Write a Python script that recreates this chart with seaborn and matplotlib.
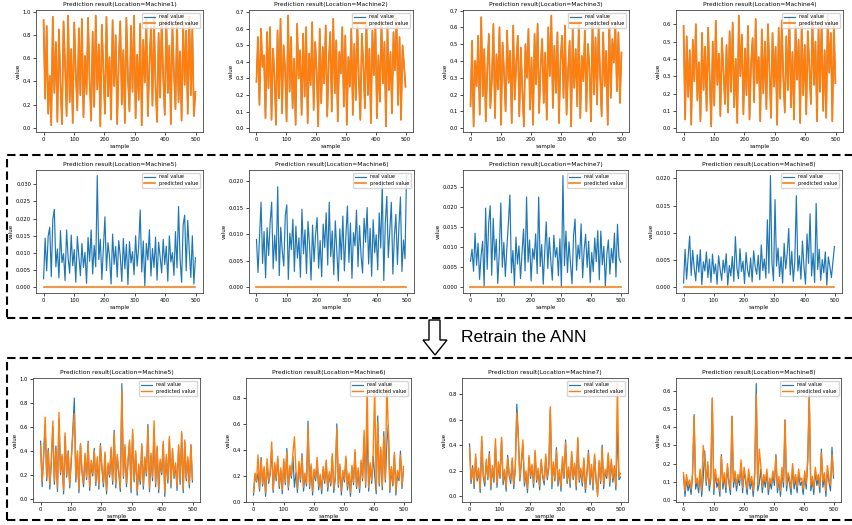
import numpy as np
import pandas as pd
import matplotlib
matplotlib.use("Agg")
import matplotlib.pyplot as plt
from matplotlib.patches import Rectangle, Polygon
import seaborn as sns

# ---- values (every 5th sample, approx.) ----
m1_real = [0.93, 0.25, 0.88, 0.12, 0.45, 0.02, 0.96, 0.30, 0.74, 0.05,
           0.85, 0.38, 0.03, 0.92, 0.55, 0.10, 0.97, 0.22, 0.68, 0.04,
           0.91, 0.47, 0.15, 0.86, 0.28, 0.94, 0.09, 0.62, 0.29, 0.95,
           0.41, 0.06, 0.83, 0.18, 0.97, 0.33, 0.72, 0.01, 0.89, 0.50,
           0.12, 0.96, 0.27, 0.61, 0.07, 0.93, 0.36, 0.80, 0.03, 0.58,
           0.92, 0.20, 0.67, 0.04, 0.95, 0.43, 0.14, 0.88, 0.31, 0.97,
           0.08, 0.63, 0.24, 0.90, 0.02, 0.76, 0.39, 0.94, 0.10, 0.54,
           0.87, 0.19, 0.96, 0.35, 0.05, 0.82, 0.26, 0.93, 0.44, 0.11,
           0.97, 0.30, 0.71, 0.03, 0.89, 0.48, 0.16, 0.95, 0.22, 0.66,
           0.06, 0.91, 0.37, 0.84, 0.12, 0.96, 0.28, 0.85, 0.10, 0.31]
m2_real = [0.28, 0.55, 0.14, 0.60, 0.37, 0.44, 0.06, 0.58, 0.24, 0.61,
           0.05, 0.48, 0.31, 0.02, 0.59, 0.18, 0.66, 0.09, 0.50, 0.36,
           0.04, 0.68, 0.22, 0.55, 0.12, 0.42, 0.02, 0.63, 0.30, 0.47,
           0.08, 0.57, 0.19, 0.61, 0.03, 0.45, 0.26, 0.64, 0.11, 0.52,
           0.34, 0.01, 0.60, 0.15, 0.49, 0.27, 0.62, 0.07, 0.40, 0.58,
           0.10, 0.66, 0.21, 0.53, 0.04, 0.46, 0.33, 0.61, 0.13, 0.56,
           0.02, 0.43, 0.25, 0.60, 0.08, 0.51, 0.17, 0.63, 0.29, 0.05,
           0.57, 0.38, 0.12, 0.65, 0.20, 0.48, 0.03, 0.59, 0.32, 0.62,
           0.06, 0.44, 0.16, 0.64, 0.27, 0.52, 0.01, 0.61, 0.23, 0.46,
           0.09, 0.58, 0.35, 0.66, 0.14, 0.55, 0.05, 0.50, 0.38, 0.25]
m3_real = [0.13, 0.52, 0.01, 0.40, 0.25, 0.55, 0.08, 0.66, 0.19, 0.47,
           0.04, 0.35, 0.56, 0.12, 0.29, 0.62, 0.06, 0.44, 0.23, 0.60,
           0.02, 0.51, 0.33, 0.10, 0.58, 0.27, 0.46, 0.03, 0.61, 0.17,
           0.39, 0.55, 0.07, 0.48, 0.22, 0.01, 0.50, 0.30, 0.59, 0.11,
           0.42, 0.02, 0.56, 0.26, 0.62, 0.09, 0.37, 0.53, 0.15, 0.45,
           0.05, 0.60, 0.31, 0.67, 0.12, 0.49, 0.21, 0.57, 0.03, 0.40,
           0.55, 0.18, 0.61, 0.08, 0.34, 0.52, 0.01, 0.59, 0.24, 0.47,
           0.13, 0.62, 0.06, 0.43, 0.28, 0.58, 0.10, 0.50, 0.36, 0.04,
           0.63, 0.20, 0.54, 0.14, 0.61, 0.32, 0.07, 0.57, 0.25, 0.46,
           0.02, 0.65, 0.18, 0.53, 0.39, 0.62, 0.22, 0.57, 0.15, 0.45]
m4_real = [0.59, 0.05, 0.53, 0.18, 0.45, 0.02, 0.51, 0.27, 0.60, 0.16,
           0.38, 0.04, 0.55, 0.22, 0.47, 0.10, 0.58, 0.29, 0.01, 0.50,
           0.13, 0.62, 0.25, 0.43, 0.07, 0.52, 0.33, 0.14, 0.48, 0.09,
           0.56, 0.21, 0.61, 0.12, 0.40, 0.03, 0.65, 0.30, 0.54, 0.08,
           0.46, 0.19, 0.59, 0.05, 0.37, 0.52, 0.15, 0.63, 0.26, 0.41,
           0.04, 0.57, 0.20, 0.50, 0.11, 0.60, 0.34, 0.06, 0.55, 0.24,
           0.47, 0.02, 0.58, 0.17, 0.62, 0.30, 0.09, 0.53, 0.22, 0.64,
           0.12, 0.44, 0.05, 0.59, 0.28, 0.51, 0.03, 0.61, 0.19, 0.48,
           0.08, 0.56, 0.35, 0.14, 0.63, 0.25, 0.50, 0.04, 0.58, 0.21,
           0.62, 0.10, 0.45, 0.06, 0.65, 0.32, 0.55, 0.04, 0.60, 0.26]
# first row: prediction lies on top of the real curve
m1_pred, m2_pred, m3_pred, m4_pred = m1_real, m2_real, m3_real, m4_real

m5_real = [0.0025, 0.0143, 0.0048, 0.0150, 0.0175, 0.0031, 0.0197, 0.0227, 0.0060, 0.0112,
           0.0028, 0.0165, 0.0072, 0.0098, 0.0020, 0.0167, 0.0085, 0.0041, 0.0152, 0.0063,
           0.0110, 0.0015, 0.0148, 0.0090, 0.0034, 0.0128, 0.0058, 0.0102, 0.0012, 0.0145,
           0.0076, 0.0167, 0.0039, 0.0122, 0.0060, 0.0325, 0.0081, 0.0140, 0.0023, 0.0115,
           0.0205, 0.0049, 0.0130, 0.0088, 0.0010, 0.0155, 0.0067, 0.0119, 0.0030, 0.0136,
           0.0092, 0.0017, 0.0142, 0.0054, 0.0125, 0.0008, 0.0133, 0.0071, 0.0104, 0.0037,
           0.0150, 0.0062, 0.0118, 0.0225, 0.0045, 0.0135, 0.0005, 0.0128, 0.0080, 0.0168,
           0.0033, 0.0113, 0.0058, 0.0146, 0.0021, 0.0131, 0.0089, 0.0042, 0.0140, 0.0066,
           0.0120, 0.0018, 0.0150, 0.0074, 0.0101, 0.0035, 0.0162, 0.0057, 0.0235, 0.0082,
           0.0015, 0.0182, 0.0210, 0.0048, 0.0195, 0.0107, 0.0029, 0.0150, 0.0010, 0.0086]
m6_real = [0.0090, 0.0028, 0.0095, 0.0160, 0.0045, 0.0105, 0.0018, 0.0112, 0.0060, 0.0122,
           0.0160, 0.0035, 0.0098, 0.0050, 0.0189, 0.0022, 0.0113, 0.0068, 0.0040, 0.0135,
           0.0155, 0.0015, 0.0102, 0.0071, 0.0128, 0.0030, 0.0115, 0.0055, 0.0093, 0.0019,
           0.0147, 0.0063, 0.0108, 0.0026, 0.0124, 0.0080, 0.0014, 0.0117, 0.0048, 0.0100,
           0.0131, 0.0036, 0.0088, 0.0020, 0.0119, 0.0075, 0.0140, 0.0042, 0.0160, 0.0058,
           0.0106, 0.0024, 0.0125, 0.0069, 0.0012, 0.0110, 0.0052, 0.0134, 0.0031, 0.0097,
           0.0153, 0.0047, 0.0121, 0.0017, 0.0103, 0.0078, 0.0145, 0.0039, 0.0116, 0.0060,
           0.0027, 0.0130, 0.0085, 0.0150, 0.0044, 0.0111, 0.0021, 0.0127, 0.0065, 0.0099,
           0.0033, 0.0140, 0.0074, 0.0195, 0.0013, 0.0120, 0.0171, 0.0056, 0.0109, 0.0160,
           0.0025, 0.0096, 0.0137, 0.0043, 0.0114, 0.0170, 0.0030, 0.0089, 0.0054, 0.0210]
m7_real = [0.0065, 0.0095, 0.0040, 0.0135, 0.0055, 0.0110, 0.0020, 0.0080, 0.0115, 0.0003,
           0.0197, 0.0045, 0.0160, 0.0203, 0.0030, 0.0172, 0.0068, 0.0120, 0.0010, 0.0088,
           0.0210, 0.0050, 0.0112, 0.0027, 0.0098, 0.0160, 0.0230, 0.0036, 0.0092, 0.0005,
           0.0125, 0.0058, 0.0103, 0.0022, 0.0085, 0.0145, 0.0041, 0.0225, 0.0063, 0.0118,
           0.0016, 0.0096, 0.0070, 0.0133, 0.0034, 0.0225, 0.0052, 0.0107, 0.0008, 0.0090,
           0.0163, 0.0047, 0.0124, 0.0066, 0.0018, 0.0130, 0.0075, 0.0099, 0.0029, 0.0121,
           0.0002, 0.0278, 0.0054, 0.0140, 0.0037, 0.0113, 0.0060, 0.0009, 0.0128, 0.0170,
           0.0043, 0.0105, 0.0071, 0.0158, 0.0024, 0.0094, 0.0132, 0.0050, 0.0115, 0.0012,
           0.0087, 0.0039, 0.0123, 0.0064, 0.0141, 0.0019, 0.0140, 0.0056, 0.0102, 0.0003,
           0.0082, 0.0118, 0.0033, 0.0097, 0.0061, 0.0135, 0.0026, 0.0157, 0.0074, 0.0063]
m8_real = [0.0008, 0.0070, 0.0015, 0.0055, 0.0094, 0.0022, 0.0068, 0.0035, 0.0012, 0.0060,
           0.0028, 0.0069, 0.0005, 0.0047, 0.0030, 0.0065, 0.0018, 0.0052, 0.0009, 0.0061,
           0.0025, 0.0043, 0.0006, 0.0058, 0.0033, 0.0013, 0.0050, 0.0027, 0.0062, 0.0004,
           0.0040, 0.0021, 0.0057, 0.0011, 0.0093, 0.0036, 0.0016, 0.0071, 0.0029, 0.0048,
           0.0007, 0.0064, 0.0032, 0.0019, 0.0054, 0.0010, 0.0067, 0.0038, 0.0024, 0.0059,
           0.0014, 0.0078, 0.0031, 0.0052, 0.0017, 0.0124, 0.0026, 0.0205, 0.0045, 0.0012,
           0.0161, 0.0039, 0.0072, 0.0020, 0.0056, 0.0008, 0.0081, 0.0034, 0.0062, 0.0108,
           0.0023, 0.0066, 0.0011, 0.0049, 0.0168, 0.0030, 0.0058, 0.0015, 0.0085, 0.0037,
           0.0006, 0.0098, 0.0044, 0.0135, 0.0021, 0.0063, 0.0009, 0.0154, 0.0033, 0.0070,
           0.0013, 0.0051, 0.0027, 0.0065, 0.0004, 0.0056, 0.0038, 0.0018, 0.0047, 0.0075]
# second row: the untrained net predicts a flat zero
flat_pred = [0.0, 0.0]
flat_sample = [0, 499]

b5_real = [0.48, 0.10, 0.37, 0.62, 0.15, 0.42, 0.08, 0.30, 0.60, 0.12,
           0.44, 0.06, 0.66, 0.20, 0.35, 0.04, 0.52, 0.18, 0.40, 0.09,
           0.31, 0.57, 0.84, 0.14, 0.38, 0.05, 0.45, 0.22, 0.10, 0.36,
           0.16, 0.48, 0.07, 0.29, 0.19, 0.42, 0.11, 0.33, 0.08, 0.46,
           0.25, 0.10, 0.37, 0.04, 0.28, 0.18, 0.41, 0.12, 0.57, 0.09,
           0.35, 0.21, 0.06, 0.96, 0.17, 0.43, 0.10, 0.30, 0.47, 0.05,
           0.55, 0.14, 0.38, 0.03, 0.27, 0.12, 0.44, 0.08, 0.33, 0.19,
           0.62, 0.06, 0.36, 0.15, 0.58, 0.10, 0.42, 0.05, 0.31, 0.20,
           0.46, 0.02, 0.35, 0.13, 0.50, 0.09, 0.40, 0.17, 0.28, 0.07,
           0.43, 0.12, 0.54, 0.05, 0.47, 0.15, 0.33, 0.09, 0.45, 0.14]
b5_pred = [0.44, 0.14, 0.35, 0.68, 0.18, 0.40, 0.12, 0.33, 0.65, 0.15,
           0.41, 0.09, 0.72, 0.22, 0.37, 0.07, 0.55, 0.20, 0.38, 0.12,
           0.34, 0.53, 0.71, 0.17, 0.40, 0.08, 0.46, 0.24, 0.13, 0.38,
           0.18, 0.46, 0.10, 0.32, 0.21, 0.40, 0.14, 0.35, 0.11, 0.44,
           0.27, 0.13, 0.39, 0.07, 0.30, 0.20, 0.43, 0.15, 0.55, 0.12,
           0.37, 0.23, 0.09, 0.90, 0.19, 0.45, 0.13, 0.32, 0.49, 0.08,
           0.58, 0.16, 0.40, 0.06, 0.29, 0.15, 0.46, 0.11, 0.35, 0.21,
           0.60, 0.09, 0.38, 0.18, 0.65, 0.13, 0.44, 0.08, 0.33, 0.22,
           0.48, 0.05, 0.37, 0.16, 0.52, 0.12, 0.42, 0.19, 0.30, 0.10,
           0.45, 0.15, 0.56, 0.08, 0.49, 0.17, 0.35, 0.12, 0.45, 0.16]
b6_real = [0.05, 0.20, 0.15, 0.22, 0.08, 0.34, 0.12, 0.25, 0.04, 0.30,
           0.14, 0.21, 0.40, 0.07, 0.28, 0.16, 0.33, 0.10, 0.24, 0.06,
           0.31, 0.13, 0.41, 0.09, 0.26, 0.18, 0.35, 0.11, 0.22, 0.07,
           0.29, 0.15, 0.37, 0.08, 0.20, 0.12, 0.62, 0.10, 0.27, 0.05,
           0.23, 0.16, 0.32, 0.09, 0.19, 0.06, 0.25, 0.14, 0.30, 0.08,
           0.21, 0.12, 0.35, 0.07, 0.18, 0.60, 0.11, 0.27, 0.05, 0.22,
           0.15, 0.33, 0.09, 0.20, 0.04, 0.26, 0.13, 0.38, 0.10, 0.24,
           0.07, 0.30, 0.16, 0.50, 0.11, 0.55, 0.08, 0.28, 0.14, 0.35,
           0.20, 0.06, 0.66, 0.12, 0.40, 0.09, 0.54, 0.15, 0.45, 0.59,
           0.07, 0.25, 0.12, 0.36, 0.05, 0.22, 0.16, 0.39, 0.10, 0.25]
b6_pred = [0.07, 0.22, 0.16, 0.36, 0.10, 0.32, 0.14, 0.27, 0.07, 0.33,
           0.16, 0.23, 0.46, 0.09, 0.30, 0.18, 0.35, 0.12, 0.26, 0.09,
           0.33, 0.15, 0.38, 0.11, 0.28, 0.20, 0.37, 0.50, 0.24, 0.10,
           0.31, 0.17, 0.35, 0.11, 0.22, 0.14, 0.58, 0.12, 0.29, 0.08,
           0.25, 0.18, 0.34, 0.12, 0.21, 0.09, 0.27, 0.16, 0.32, 0.11,
           0.23, 0.14, 0.37, 0.10, 0.20, 0.57, 0.13, 0.29, 0.08, 0.24,
           0.17, 0.35, 0.12, 0.22, 0.07, 0.28, 0.15, 0.40, 0.12, 0.26,
           0.10, 0.32, 0.18, 0.55, 0.13, 0.91, 0.11, 0.30, 0.16, 0.37,
           0.88, 0.09, 0.62, 0.14, 0.42, 0.12, 0.50, 0.17, 0.90, 0.55,
           0.10, 0.27, 0.14, 0.38, 0.08, 0.24, 0.18, 0.36, 0.12, 0.27]
b7_real = [0.41, 0.10, 0.24, 0.06, 0.30, 0.12, 0.20, 0.03, 0.44, 0.15,
           0.08, 0.27, 0.13, 0.35, 0.05, 0.22, 0.11, 0.40, 0.07, 0.25,
           0.14, 0.45, 0.09, 0.19, 0.04, 0.32, 0.16, 0.10, 0.28, 0.06,
           0.21, 0.72, 0.48, 0.12, 0.26, 0.40, 0.08, 0.18, 0.03, 0.30,
           0.14, 0.23, 0.07, 0.34, 0.11, 0.20, 0.05, 0.27, 0.15, 0.09,
           0.31, 0.13, 0.22, 0.68, 0.06, 0.25, 0.12, 0.38, 0.08, 0.19,
           0.04, 0.29, 0.14, 0.44, 0.10, 0.21, 0.07, 0.33, 0.13, 0.24,
           0.05, 0.45, 0.11, 0.20, 0.08, 0.28, 0.03, 0.17, 0.36, 0.09,
           0.23, 0.05, 0.31, 0.12, 0.02, 0.26, 0.10, 0.40, 0.06, 0.19,
           0.14, 0.32, 0.08, 0.27, 0.11, 0.22, 0.05, 0.50, 0.13, 0.15]
b7_pred = [0.38, 0.13, 0.22, 0.09, 0.33, 0.14, 0.22, 0.06, 0.47, 0.17,
           0.11, 0.29, 0.15, 0.33, 0.08, 0.24, 0.13, 0.45, 0.10, 0.27,
           0.16, 0.46, 0.12, 0.21, 0.07, 0.30, 0.18, 0.13, 0.30, 0.09,
           0.23, 0.65, 0.45, 0.14, 0.28, 0.44, 0.11, 0.20, 0.06, 0.32,
           0.16, 0.25, 0.10, 0.36, 0.13, 0.22, 0.08, 0.29, 0.17, 0.12,
           0.33, 0.15, 0.24, 0.70, 0.09, 0.27, 0.14, 0.36, 0.11, 0.21,
           0.07, 0.31, 0.16, 0.42, 0.12, 0.23, 0.10, 0.35, 0.15, 0.26,
           0.08, 0.46, 0.13, 0.22, 0.11, 0.30, 0.06, 0.19, 0.34, 0.12,
           0.25, 0.08, 0.33, 0.14, 0.00, 0.28, 0.12, 0.38, 0.09, 0.21,
           0.16, 0.34, 0.11, 0.29, 0.14, 0.24, 0.08, 0.88, 0.15, 0.18]
b8_real = [0.13, 0.02, 0.12, 0.05, 0.09, 0.03, 0.14, 0.47, 0.06, 0.10,
           0.04, 0.16, 0.02, 0.12, 0.27, 0.08, 0.19, 0.05, 0.11, 0.56,
           0.03, 0.15, 0.07, 0.10, 0.02, 0.25, 0.06, 0.13, 0.04, 0.18,
           0.09, 0.03, 0.46, 0.07, 0.14, 0.05, 0.12, 0.08, 0.20, 0.04,
           0.16, 0.10, 0.03, 0.15, 0.06, 0.11, 0.02, 0.13, 0.64, 0.05,
           0.09, 0.17, 0.04, 0.12, 0.07, 0.15, 0.03, 0.10, 0.06, 0.14,
           0.08, 0.25, 0.04, 0.11, 0.02, 0.16, 0.07, 0.44, 0.05, 0.13,
           0.09, 0.03, 0.18, 0.06, 0.12, 0.04, 0.15, 0.08, 0.10, 0.03,
           0.14, 0.06, 0.21, 0.59, 0.05, 0.11, 0.03, 0.16, 0.08, 0.12,
           0.04, 0.28, 0.07, 0.13, 0.02, 0.17, 0.10, 0.05, 0.29, 0.12]
b8_pred = [0.15, 0.05, 0.14, 0.08, 0.11, 0.06, 0.15, 0.46, 0.09, 0.12,
           0.07, 0.17, 0.05, 0.30, 0.22, 0.10, 0.21, 0.08, 0.13, 0.56,
           0.06, 0.17, 0.10, 0.12, 0.05, 0.24, 0.09, 0.15, 0.07, 0.20,
           0.11, 0.06, 0.46, 0.10, 0.16, 0.08, 0.14, 0.11, 0.22, 0.07,
           0.18, 0.12, 0.06, 0.17, 0.09, 0.13, 0.05, 0.15, 0.58, 0.08,
           0.28, 0.19, 0.07, 0.14, 0.10, 0.17, 0.06, 0.12, 0.09, 0.16,
           0.11, 0.24, 0.07, 0.13, 0.05, 0.18, 0.10, 0.44, 0.08, 0.15,
           0.12, 0.06, 0.20, 0.09, 0.14, 0.07, 0.17, 0.11, 0.12, 0.06,
           0.16, 0.09, 0.23, 0.57, 0.08, 0.13, 0.06, 0.18, 0.11, 0.14,
           0.07, 0.26, 0.10, 0.15, 0.05, 0.19, 0.12, 0.08, 0.25, 0.14]

top_machines = ["Machine1", "Machine2", "Machine3", "Machine4"]
low_machines = ["Machine5", "Machine6", "Machine7", "Machine8"]

W, H = 853, 525
plt.rcParams.update({
    "font.size": 4, "axes.linewidth": 0.6, "axes.edgecolor": "#444444",
    "xtick.major.size": 2, "ytick.major.size": 2,
    "xtick.major.width": 0.5, "ytick.major.width": 0.5,
    "xtick.major.pad": 1.5, "ytick.major.pad": 1.5,
    "xtick.labelsize": 3.8, "ytick.labelsize": 3.8,
    "axes.titlesize": 4.3, "axes.titlepad": 3, "axes.labelsize": 4,
    "axes.labelpad": 1.5,
})
BLUE, ORANGE = "#1f77b4", "#ff7f0e"

fig = plt.figure(figsize=(W / 100, H / 100), dpi=100)


def px_axes(l, t, r, b):
    return fig.add_axes([l / W, 1 - b / H, (r - l) / W, (b - t) / H])


def panel(ax, real, pred, machine, pred_x=None, lw_pred=0.9):
    sx = np.linspace(0, 499, len(real))
    px = np.linspace(0, 499, len(pred)) if pred_x is None else pred_x
    sns.lineplot(x=sx, y=real, ax=ax, color=BLUE, lw=0.85, label="real value", estimator=None)
    sns.lineplot(x=px, y=pred, ax=ax, color=ORANGE, lw=lw_pred, label="predicted value", estimator=None)
    ax.set_title(f"Prediction result(Location={machine})")
    ax.set_xlabel("sample")
    ax.set_ylabel("value")
    ax.set_xticks([0, 100, 200, 300, 400, 500])
    ax.legend(loc="upper right", fontsize=3.6, handlelength=2.2, borderpad=0.4,
              labelspacing=0.3, framealpha=0.8)


rows = [
    (10, 132, [(36, 203), (249, 413), (463, 629), (676, 843)]),
    (170, 293, [(36, 203), (249, 414), (463, 628), (676, 842)]),
    (378, 502, [(33, 200), (246, 411), (462, 628), (676, 841)]),
]

top_series = [(m1_real, m1_pred), (m2_real, m2_pred), (m3_real, m3_pred), (m4_real, m4_pred)]
mid_series = [m5_real, m6_real, m7_real, m8_real]
bot_series = [(b5_real, b5_pred), (b6_real, b6_pred), (b7_real, b7_pred), (b8_real, b8_pred)]

t, b, cols = rows[0]
for (l, r), (real, pred), name in zip(cols, top_series, top_machines):
    panel(px_axes(l, t, r, b), real, pred, name, lw_pred=1.25)

t, b, cols = rows[1]
for (l, r), real, name in zip(cols, mid_series, low_machines):
    panel(px_axes(l, t, r, b), real, flat_pred, name, pred_x=flat_sample, lw_pred=1.2)

t, b, cols = rows[2]
for (l, r), (real, pred), name in zip(cols, bot_series, low_machines):
    panel(px_axes(l, t, r, b), real, pred, name, lw_pred=1.0)

# dashed frames around the two lower rows
for (y0, y1) in [(155, 318), (358, 520)]:
    fig.add_artist(Rectangle((7 / W, 1 - y1 / H), (870 - 7) / W, (y1 - y0) / H,
                             transform=fig.transFigure, fill=False, edgecolor="black",
                             lw=1.5, linestyle=(0, (4, 2)), clip_on=False))

# hollow down arrow + caption
arrow_px = [(429, 320), (440, 320), (440, 340), (447, 340), (435, 355),
            (423, 340), (429, 340)]
fig.add_artist(Polygon([(x / W, 1 - y / H) for x, y in arrow_px], closed=True,
                       transform=fig.transFigure, facecolor="white",
                       edgecolor="black", lw=1.0))
fig.text(461 / W, 1 - 337 / H, "Retrain the ANN", fontsize=12.5,
         family=["Liberation Sans", "DejaVu Sans"], va="center", ha="left")

fig.savefig("out.png", dpi=100)
